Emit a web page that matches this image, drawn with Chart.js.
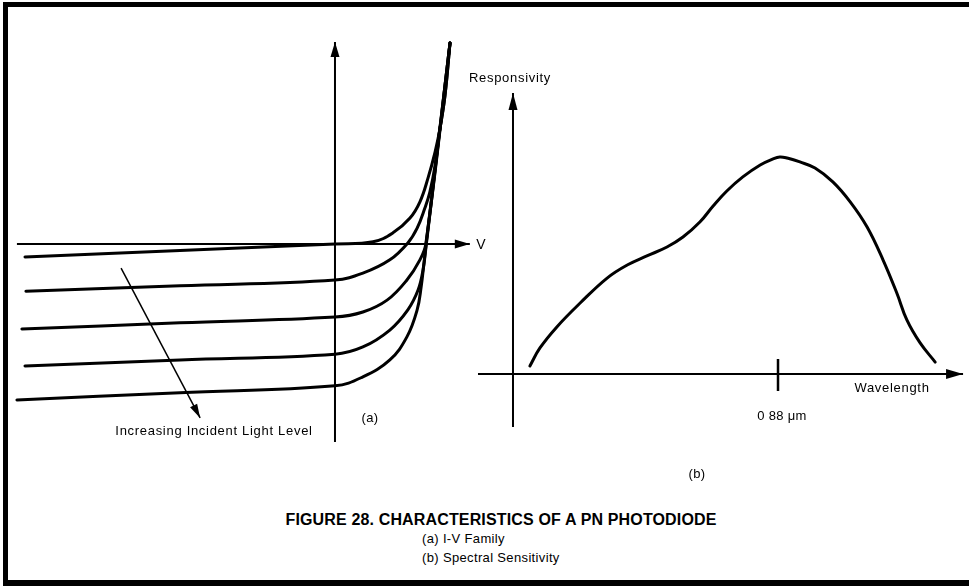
<!DOCTYPE html>
<html>
<head>
<meta charset="utf-8">
<script src="https://cdn.jsdelivr.net/npm/chart.js@4/dist/chart.umd.min.js"></script>
<style>
  body { margin: 0; background: #fff; }
  #page { position: relative; width: 969px; height: 586px; overflow: hidden; background: #fff;
          font-family: "Liberation Sans", Arial, Helvetica, sans-serif; color: #000; }
  #frame { position: absolute; left: 3px; top: 2px; width: 966px; height: 584px; box-sizing: border-box;
           border-top: 5px solid #000; border-left: 5px solid #000; border-bottom: 6px solid #000; }
  canvas { position: absolute; }
  .t { position: absolute; white-space: nowrap; transform: translate(-50%, -50%); font-size: 13px; letter-spacing: 0.7px; line-height: 1; }
  .l { transform: translate(0, -50%); letter-spacing: 0.35px; }
</style>
</head>
<body>
<div id="page">
  <div id="frame"></div>
  <canvas id="ivChart" width="500" height="440" style="left:0; top:20px;"></canvas>
  <canvas id="specChart" width="499" height="430" style="left:470px; top:30px;"></canvas>

  <div class="t" style="left:481px; top:244px; font-size:14px; letter-spacing:0;">V</div>
  <div class="t" style="left:370px; top:417px; letter-spacing:0.3px;">(a)</div>
  <div class="t" style="left:214px; top:430px;">Increasing Incident Light Level</div>
  <div class="t" style="left:510px; top:77px;">Responsivity</div>
  <div class="t" style="left:892px; top:387px;">Wavelength</div>
  <div class="t" style="left:782px; top:415px; letter-spacing:0.3px;">0 88 &mu;m</div>
  <div class="t" style="left:697px; top:473px; letter-spacing:0.3px;">(b)</div>
  <div class="t" style="left:501px; top:520px; font-size:16px; font-weight:bold; letter-spacing:0.15px;">FIGURE 28. CHARACTERISTICS OF A PN PHOTODIODE</div>
  <div class="t l" style="left:422px; top:538px;">(a) I-V Family</div>
  <div class="t l" style="left:422px; top:557px;">(b) Spectral Sensitivity</div>
</div>
<script>
// ---- (a) I-V family: bias V and current I, arbitrary units ----
const darkV   = [-10, -5, 0, 1.23, 1.87, 2.42, 2.74, 3.0, 3.23, 3.39, 3.55, 3.71];
const darkI   = [-0.36, -0.18, 0, 0.06, 0.31, 0.72, 1.17, 1.83, 2.56, 3.22, 4.14, 5.58];
const light1V = [-9.97, -5, 0, 0.9, 1.77, 2.35, 2.65, 2.9, 3.06, 3.23, 3.36, 3.55, 3.71];
const light1I = [-1.31, -1.16, -1.0, -0.81, -0.44, 0.03, 0.44, 1.0, 1.44, 2.19, 3.05, 4.14, 5.58];
const light2V = [-10.1, -5, 0, 0.9, 1.68, 2.32, 2.74, 2.93, 3.71];
const light2I = [-2.36, -2.19, -2.03, -1.89, -1.56, -1.0, -0.44, 0.0, 5.58];
const light3V = [-10, -5, 0, 0.9, 1.77, 2.35, 2.68, 2.84, 2.94, 3.71];
const light3I = [-3.39, -3.22, -3.06, -2.86, -2.39, -1.83, -1.28, -0.72, -0.05, 5.58];
const light4V = [-10.26, -5, 0, 0.9, 1.77, 2.32, 2.65, 2.78, 2.87, 2.94, 3.71];
const light4I = [-4.33, -4.13, -3.94, -3.69, -3.22, -2.58, -1.83, -1.19, -0.53, 0.0, 5.58];
const lightArrowV = [-6.9, -4.35];
const lightArrowI = [-0.67, -4.83];
const ivAxisV = [-10.26, 4.35];   // extent of the V axis
const ivAxisI = [-5.5, 5.61];     // extent of the I axis

// ---- (b) spectral sensitivity: wavelength (um) and relative responsivity ----
const lambda = [0.337, 0.359, 0.396, 0.447, 0.506, 0.550, 0.593, 0.637, 0.672, 0.709, 0.738, 0.768,
                0.803, 0.841, 0.869, 0.884, 0.900, 0.928, 0.961, 1.000, 1.038, 1.075, 1.110, 1.140,
                1.162, 1.191, 1.224];
const respons = [0.037, 0.120, 0.217, 0.327, 0.442, 0.502, 0.544, 0.585, 0.631, 0.700, 0.774, 0.843,
                 0.908, 0.963, 0.991, 1.000, 0.995, 0.977, 0.949, 0.885, 0.793, 0.677, 0.525, 0.373,
                 0.249, 0.143, 0.055];
const peakLambda = 0.88;
const specAxisX = [0.2234, 1.285];
const specAxisOrigin = 0.3;
const specAxisY = [-0.244, 1.295];
const tickSpan = [0.069, -0.078];

const pts = (xs, ys) => xs.map((x, i) => ({ x, y: ys[i] }));

// draws a filled arrow head at the last point of any dataset carrying `arrow: [length, halfWidth]`
const arrowHeads = {
  id: 'arrowHeads',
  afterDatasetsDraw(chart) {
    const ctx = chart.ctx;
    chart.data.datasets.forEach((ds, i) => {
      if (!ds.arrow) return;
      const el = chart.getDatasetMeta(i).data;
      const a = el[el.length - 2], b = el[el.length - 1];
      const ang = Math.atan2(b.y - a.y, b.x - a.x);
      const [len, half] = ds.arrow;
      ctx.save();
      ctx.translate(b.x, b.y);
      ctx.rotate(ang);
      ctx.beginPath();
      ctx.moveTo(0, 0);
      ctx.lineTo(-len, -half);
      ctx.lineTo(-len, half);
      ctx.closePath();
      ctx.fillStyle = '#000';
      ctx.fill();
      ctx.restore();
    });
  }
};

const curve = (data, extra = {}) => Object.assign({
  data, showLine: true, pointRadius: 0, borderColor: '#000', borderWidth: 3,
  tension: 0.4, borderJoinStyle: 'round', borderCapStyle: 'round', clip: false,
}, extra);
const line = (data, width, extra = {}) => Object.assign({
  data, showLine: true, pointRadius: 0, borderColor: '#000', borderWidth: width, clip: false,
}, extra);

const baseOptions = (xmin, xmax, ymin, ymax) => ({
  responsive: false, animation: false, events: [],
  layout: { padding: 0 },
  plugins: { legend: { display: false }, tooltip: { enabled: false } },
  scales: {
    x: { type: 'linear', display: false, min: xmin, max: xmax },
    y: { type: 'linear', display: false, min: ymin, max: ymax },
  },
});

new Chart(document.getElementById('ivChart'), {
  type: 'scatter',
  data: {
    datasets: [
      line(pts(ivAxisV, [0, 0]), 2, { arrow: [15, 4.5] }),
      line(pts([0, 0], ivAxisI), 2, { arrow: [15, 4.5] }),
      curve(pts(darkV, darkI)),
      curve(pts(light1V, light1I)),
      curve(pts(light2V, light2I)),
      curve(pts(light3V, light3I)),
      curve(pts(light4V, light4I)),
      line(pts(lightArrowV, lightArrowI), 1.5, { arrow: [14, 4] }),
    ],
  },
  options: baseOptions(-10.806, 5.323, -6.0, 6.222),
  plugins: [arrowHeads],
});

new Chart(document.getElementById('specChart'), {
  type: 'scatter',
  data: {
    datasets: [
      line(pts(specAxisX, [0, 0]), 2, { arrow: [17, 5] }),
      line(pts([specAxisOrigin, specAxisOrigin], specAxisY), 2, { arrow: [17, 4.5] }),
      line(pts([peakLambda, peakLambda], tickSpan), 2.5),
      curve(pts(lambda, respons)),
    ],
  },
  options: baseOptions(0.2059, 1.298, -0.3963, 1.585),
  plugins: [arrowHeads],
});
</script>
</body>
</html>
